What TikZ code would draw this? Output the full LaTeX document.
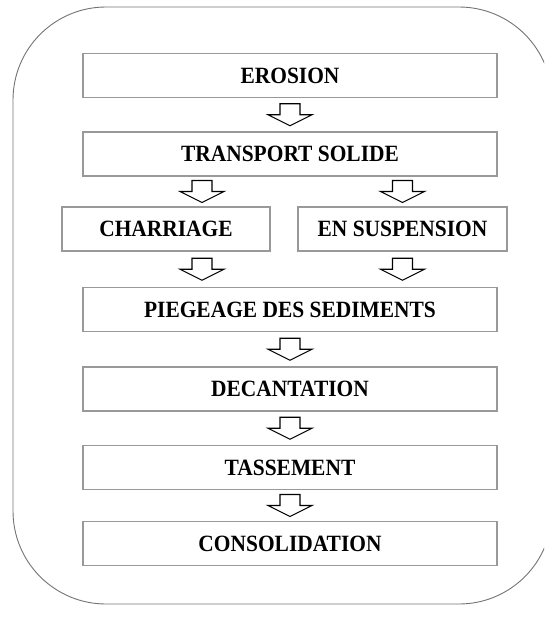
\documentclass[tikz,border=0pt]{standalone}
\usepackage{fontspec}
\setmainfont{Liberation Serif}
\newfontfamily\etapefont[FakeStretch=0.92]{Liberation Serif}
\usetikzlibrary{calc}
\tikzset{
  etape/.style={draw=black!40, line width=1.3pt, minimum height=44pt, inner sep=0pt,
    font=\etapefont\bfseries\fontsize{23.3}{26}\selectfont},
  fleche/.style={draw=black, line width=1.1pt, fill=white, line join=miter}
}
\newcommand{\fleche}[1]{\draw[fleche, shift={#1}] (-10,-11) -- (-10,0) -- (-22,0) -- (0,11) -- (22,0) -- (10,0) -- (10,-11) -- cycle;}
\begin{document}
\begin{tikzpicture}[x=1pt,y=-1pt]
\useasboundingbox (0,0) rectangle (544,621);
\clip (0,0) rectangle (544,621);
\draw[black!55, line width=0.9pt, rounded corners=93pt] (13,7) rectangle (552,604);
\node[etape, minimum width=414pt] (erosion) at (290,75.5) {EROSION};
\node[etape, minimum width=414pt] (transport) at (290,154) {TRANSPORT SOLIDE};
\node[etape, minimum width=208pt] (charriage) at (166,229) {CHARRIAGE};
\node[etape, minimum width=209pt] (suspension) at (402.5,229) {EN SUSPENSION};
\node[etape, minimum width=414pt] (piegeage) at (290,309.5) {PIEGEAGE DES SEDIMENTS};
\node[etape, minimum width=414pt] (decantation) at (290,389) {DECANTATION};
\node[etape, minimum width=414pt] (tassement) at (290,467.5) {TASSEMENT};
\node[etape, minimum width=414pt] (consolidation) at (290,543.5) {CONSOLIDATION};
\coordinate (gauche) at (202,0);
\fleche{($(erosion.south)!0.5!(transport.north)$)}
\fleche{($(transport.south -| gauche)!0.5!(charriage.north -| gauche)$)}
\fleche{($(transport.south -| suspension)!0.5!(suspension.north)$)}
\fleche{($(charriage.south -| gauche)!0.5!(piegeage.north -| gauche)$)}
\fleche{($(suspension.south)!0.5!(piegeage.north -| suspension)$)}
\fleche{($(piegeage.south)!0.5!(decantation.north)$)}
\fleche{($(decantation.south)!0.5!(tassement.north)$)}
\fleche{($(tassement.south)!0.5!(consolidation.north)$)}
\end{tikzpicture}
\end{document}
